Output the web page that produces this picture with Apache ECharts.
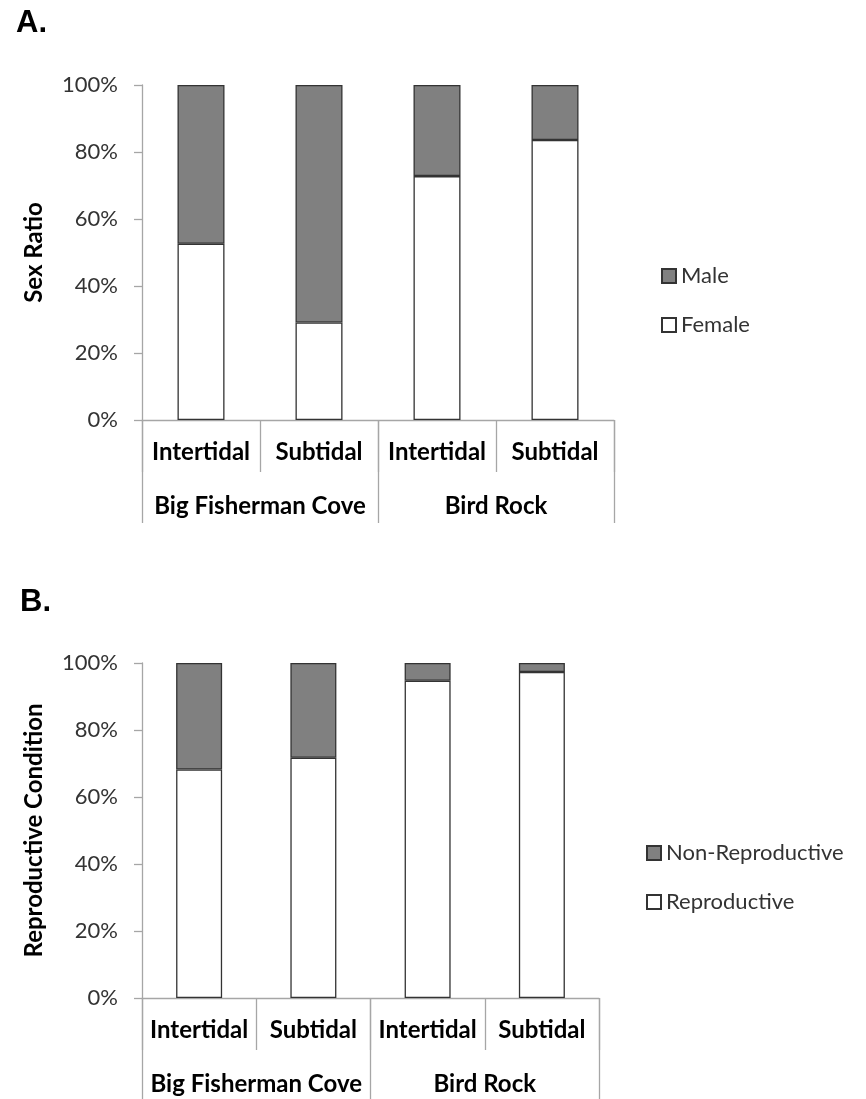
<!DOCTYPE html>
<html>
<head>
<meta charset="utf-8">
<title>Sex ratio and reproductive condition</title>
<script src="https://cdn.jsdelivr.net/npm/echarts@6/dist/echarts.min.js"></script>
<style>
  html, body { margin: 0; padding: 0; background: #ffffff; }
  #chart { width: 866px; height: 1099px; }
</style>
</head>
<body>
<div id="chart"></div>
<script>
// Sites and habitats (two-level category axis)
const habitats = ['Intertidal', 'Subtidal', 'Intertidal', 'Subtidal'];
const sites = ['Big Fisherman Cove', 'Bird Rock'];
const yTicks = [0, 20, 40, 60, 80, 100];

// Panel A: sex ratio (%)
const female = [52.6, 29.1, 72.8, 83.6];
const male = [47.4, 70.9, 27.2, 16.4];

// Panel B: reproductive condition (%)
const reproductive = [68.2, 71.7, 94.7, 97.3];
const nonReproductive = [31.8, 28.3, 5.3, 2.7];

const AXIS_GRAY = '#a6a6a6';
const SANS = 'Lato';

function yAxis(gridIndex, title) {
  return {
    type: 'value', gridIndex: gridIndex, min: 0, max: 100, interval: 20,
    name: title, nameLocation: 'middle', nameRotate: 90, nameGap: 96,
    nameTextStyle: { fontFamily: SANS, fontWeight: 'bold', fontSize: 24, color: '#000' },
    axisLine: { show: true, lineStyle: { color: AXIS_GRAY, width: 1.3 } },
    axisTick: { show: true, length: 8, lineStyle: { color: AXIS_GRAY, width: 1.3 } },
    splitLine: { show: false },
    axisLabel: {
      margin: 24, fontFamily: SANS, fontSize: 22, color: '#333333',
      formatter: function (v) { return yTicks.indexOf(v) >= 0 ? v + '%' : ''; }
    }
  };
}

function habitatAxis(gridIndex) {
  return {
    type: 'category', gridIndex: gridIndex, data: habitats, position: 'bottom',
    axisLine: { show: true, lineStyle: { color: AXIS_GRAY, width: 1.3 } },
    axisTick: { show: true, interval: 0, length: 52, lineStyle: { color: AXIS_GRAY, width: 1.3 } },
    axisLabel: { interval: 0, margin: 20, fontFamily: SANS, fontWeight: 'bold', fontSize: 24, color: '#000' }
  };
}

function siteAxis(gridIndex) {
  return {
    type: 'category', gridIndex: gridIndex, data: sites, position: 'bottom',
    axisLine: { show: false },
    axisTick: { show: true, interval: 0, length: 103, lineStyle: { color: AXIS_GRAY, width: 1.3 } },
    axisLabel: { interval: 0, margin: 74, fontFamily: SANS, fontWeight: 'bold', fontSize: 24, color: '#000' }
  };
}

function bar(name, data, xi, yi, fill, width) {
  return {
    name: name, type: 'bar', data: data, stack: 'g' + xi,
    xAxisIndex: xi, yAxisIndex: yi, barWidth: width,
    itemStyle: { color: fill, borderColor: '#333333', borderWidth: 1.3 },
    emphasis: { disabled: true },
    animation: false
  };
}

function legend(items, top, left) {
  return {
    orient: 'vertical', left: left, top: top, data: items,
    icon: 'rect', itemWidth: 14, itemHeight: 14, itemGap: 27,
    selectedMode: false,
    textStyle: { fontFamily: SANS, fontSize: 22, color: '#333333', lineHeight: 22, padding: [0, 0, 0, 0] }
  };
}

const chart = echarts.init(document.getElementById('chart'), null, { renderer: 'canvas' });
chart.setOption({
  backgroundColor: '#ffffff',
  animation: false,
  title: [
    { text: 'A.', left: 11, top: 3, textStyle: { fontFamily: 'Liberation Sans', fontWeight: 'bold', fontSize: 31, color: '#000' } },
    { text: 'B.', left: 15, top: 582, textStyle: { fontFamily: 'Liberation Sans', fontWeight: 'bold', fontSize: 31, color: '#000' } }
  ],
  legend: [
    legend(['Male', 'Female'], 260, 656),
    legend(['Non-Reproductive', 'Reproductive'], 837, 641)
  ],
  grid: [
    { left: 142, top: 85, width: 472, height: 335, containLabel: false },
    { left: 142, top: 663, width: 457, height: 335, containLabel: false }
  ],
  xAxis: [habitatAxis(0), siteAxis(0), habitatAxis(1), siteAxis(1)],
  yAxis: [yAxis(0, 'Sex Ratio'), yAxis(1, 'Reproductive Condition')],
  series: [
    bar('Female', female, 0, 0, '#ffffff', 47),
    bar('Male', male, 0, 0, '#808080', 47),
    bar('Reproductive', reproductive, 2, 1, '#ffffff', 46),
    bar('Non-Reproductive', nonReproductive, 2, 1, '#808080', 46)
  ]
});
</script>
</body>
</html>
